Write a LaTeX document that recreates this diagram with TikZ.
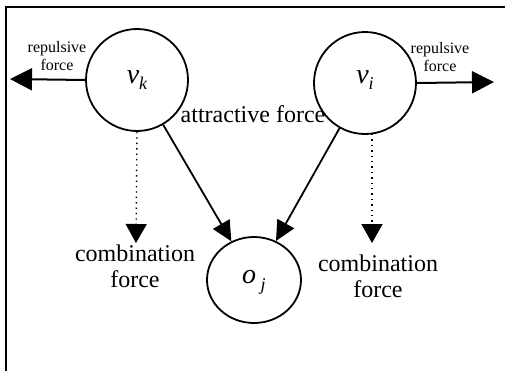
\documentclass[tikz,border=0pt]{standalone}
\usepackage{fontspec}
\setmainfont{Liberation Serif}
\usetikzlibrary{arrows.meta,shapes.geometric}
\begin{document}
\begin{tikzpicture}[x=0.5pt,y=-0.5pt,
  vert/.style={circle,draw,line width=0.9pt,minimum size=51pt,inner sep=0pt},
  obj/.style={ellipse,draw,line width=0.9pt,minimum width=47pt,minimum height=43pt,inner sep=0pt},
  lbl/.style={font=\fontsize{14}{14}\selectfont\itshape},
  rep/.style={-{Triangle[length=11pt,width=11pt]},line width=1pt},
  comb/.style={-{Triangle[length=9.5pt,width=10.5pt]},dotted,line width=0.7pt},
  att/.style={-{Triangle[length=10pt,width=9.5pt]},line width=0.9pt},
  small/.style={font=\fontsize{8}{9}\selectfont,align=center},
  txt/.style={font=\fontsize{12}{13}\selectfont,align=center}]
\useasboundingbox (0,0) rectangle (505,371);
\draw[line width=1pt] (6,371) -- (6,7) -- (505,7);
\node[vert] (vk) at (137,80) {};
\node[vert] (vi) at (365,83) {};
\node[obj] (oj) at (254,280) {};
\node[lbl] (lk) at (137,80) {v\raisebox{-0.45ex}{\fontsize{9}{9}\selectfont k}};
\node[lbl] (li) at (365,80) {v\raisebox{-0.45ex}{\fontsize{9}{9}\selectfont i}};
\node[lbl] (lj) at (254,282) {o\raisebox{-0.55ex}{\fontsize{9}{9}\selectfont\ j}};
\coordinate (lt) at (10,79);
\coordinate (rt) at (494,82);
\coordinate (kd) at (136,243);
\coordinate (id) at (372,243);
\coordinate (is) at (372,134);
\draw[rep] (vk.west) -- (lt);
\draw[rep] (vi.east) -- (rt);
\draw[comb] (vk.south) -- (kd);
\draw[comb] (is) -- (id);
\draw[att] (vk) -- (oj);
\draw[att] (vi) -- (oj);
\node[small] (rl) at (57,56) {repulsive\\force};
\node[small] (rr) at (440,57) {repulsive\\force};
\node[txt] (cl) at (135,266) {combination\\force};
\node[txt] (cr) at (378,276) {combination\\force};
\node[txt] (af) at (253,114) {attractive force};
\end{tikzpicture}
\end{document}
